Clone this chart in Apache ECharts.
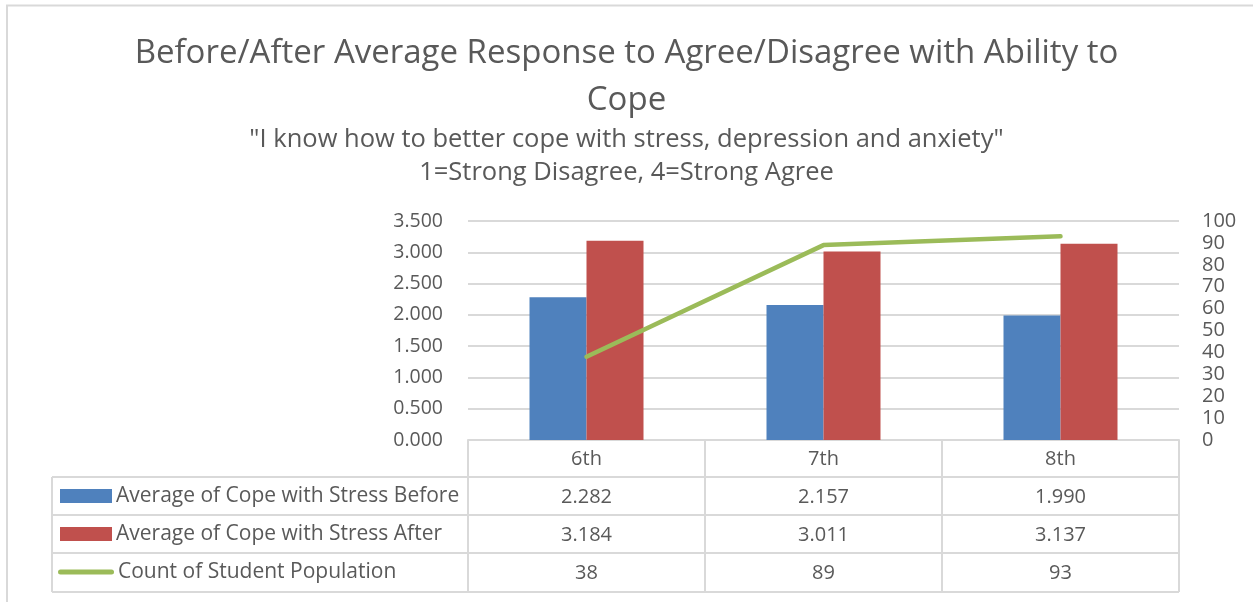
<!DOCTYPE html>
<html>
<head>
<meta charset="utf-8">
<script src="https://cdn.jsdelivr.net/npm/echarts@6/dist/echarts.min.js"></script>
<style>
html,body{margin:0;padding:0;background:#fff;}
#chart{width:1253px;height:602px;}
</style>
</head>
<body>
<div id="chart"></div>
<script>
const categories = ['6th', '7th', '8th'];
const beforeValues = [2.282, 2.157, 1.990];
const afterValues = [3.184, 3.011, 3.137];
const countValues = [38, 89, 93];
const seriesNames = ['Average of Cope with Stress Before', 'Average of Cope with Stress After', 'Count of Student Population'];
const titleText = 'Before/After Average Response to Agree/Disagree with Ability to\nCope';
const subtitleText = '"I know how to better cope with stress, depression and anxiety"\n1=Strong Disagree, 4=Strong Agree';

const FONT = '"Open Sans", "Noto Sans", sans-serif';
const TXT = '#595959';
const GRID = '#D9D9D9';
const rowVals = [
  v => beforeValues[v].toFixed(3),
  v => afterValues[v].toFixed(3),
  v => String(countValues[v])
];

const chart = echarts.init(document.getElementById('chart'), null, {renderer: 'canvas'});

function rowAxis(k) {
  return {
    type: 'category', data: categories, gridIndex: 0, position: 'bottom',
    offset: 38 * (k + 1),
    axisLine: {show: false}, axisTick: {show: false}, splitLine: {show: false},
    axisLabel: {
      interval: 0, margin: 8, color: TXT, fontFamily: FONT, fontSize: 20, lineHeight: 22,
      formatter: (val, idx) => rowVals[k](idx)
    }
  };
}

function legendAt(name, left, top, w, h, icon) {
  return {
    data: [{name: name, icon: icon}], left: left, top: top, padding: 0, orient: 'horizontal',
    itemWidth: w, itemHeight: h, selectedMode: false,
    textStyle: {color: TXT, fontFamily: FONT, fontSize: 21, lineHeight: 22, padding: [0, 0, 0, -1]}
  };
}

const lineIcon = 'path://M2.5,0 L53.5,0 A2.5,2.5 0 0 1 53.5,5 L2.5,5 A2.5,2.5 0 0 1 2.5,0 Z';

const option = {
  backgroundColor: '#fff',
  animation: false,
  title: [
    {text: titleText, left: 'center', top: 30, padding: 0,
     textStyle: {color: TXT, fontFamily: FONT, fontSize: 33, fontWeight: 'normal', lineHeight: 47}},
    {text: subtitleText, left: 'center', top: 123, padding: 0,
     textStyle: {color: TXT, fontFamily: FONT, fontSize: 25.5, fontWeight: 'normal', lineHeight: 33, align: 'center'}}
  ],
  legend: [
    legendAt(seriesNames[0], 60, 485, 52, 14, 'rect'),
    legendAt(seriesNames[1], 60, 523, 52, 14, 'rect'),
    legendAt(seriesNames[2], 58, 561, 56, 5, lineIcon)
  ],
  grid: {left: 468, right: 74, top: 221, bottom: 162, containLabel: false},
  xAxis: [
    {
      type: 'category', data: categories, gridIndex: 0, position: 'bottom',
      axisLine: {show: true, lineStyle: {color: GRID, width: 2}},
      axisTick: {show: true, length: 152, inside: false, lineStyle: {color: GRID, width: 2}},
      axisLabel: {interval: 0, margin: 8, color: TXT, fontFamily: FONT, fontSize: 20, lineHeight: 22},
      splitLine: {show: false}
    },
    rowAxis(0), rowAxis(1), rowAxis(2)
  ],
  yAxis: [
    {
      type: 'value', min: 0, max: 3.5, interval: 0.5,
      axisLine: {show: false}, axisTick: {show: false},
      splitLine: {show: true, lineStyle: {color: GRID, width: 2}},
      axisLabel: {margin: 25, color: TXT, fontFamily: FONT, fontSize: 19.5, formatter: v => v.toFixed(3)}
    },
    {
      type: 'value', min: 0, max: 100, interval: 10, position: 'right',
      axisLine: {show: false}, axisTick: {show: false}, splitLine: {show: false},
      axisLabel: {margin: 23, color: TXT, fontFamily: FONT, fontSize: 20}
    }
  ],
  series: [
    {name: seriesNames[0], type: 'bar', data: beforeValues, xAxisIndex: 0, yAxisIndex: 0,
     barWidth: 57, barGap: '0%', itemStyle: {color: '#4F81BD'}},
    {name: seriesNames[1], type: 'bar', data: afterValues, xAxisIndex: 0, yAxisIndex: 0,
     barWidth: 57, barGap: '0%', itemStyle: {color: '#C0504D'}},
    {name: seriesNames[2], type: 'line', data: countValues, xAxisIndex: 0, yAxisIndex: 1,
     symbol: 'none', lineStyle: {color: '#9BBB59', width: 4.5, cap: 'round', join: 'round'},
     itemStyle: {color: '#9BBB59'}}
  ],
  graphic: [
    {type: 'rect', shape: {x: 7, y: 5.5, width: 1260, height: 620}, style: {fill: 'none', stroke: GRID, lineWidth: 2}, silent: true},
    {type: 'line', shape: {x1: 52, y1: 477, x2: 1179, y2: 477}, style: {stroke: GRID, lineWidth: 2}, silent: true},
    {type: 'line', shape: {x1: 52, y1: 515, x2: 1179, y2: 515}, style: {stroke: GRID, lineWidth: 2}, silent: true},
    {type: 'line', shape: {x1: 52, y1: 553, x2: 1179, y2: 553}, style: {stroke: GRID, lineWidth: 2}, silent: true},
    {type: 'line', shape: {x1: 52, y1: 592, x2: 1179, y2: 592}, style: {stroke: GRID, lineWidth: 2}, silent: true},
    {type: 'line', shape: {x1: 52, y1: 477, x2: 52, y2: 592}, style: {stroke: GRID, lineWidth: 2}, silent: true}
  ]
};
chart.setOption(option);
</script>
</body>
</html>
